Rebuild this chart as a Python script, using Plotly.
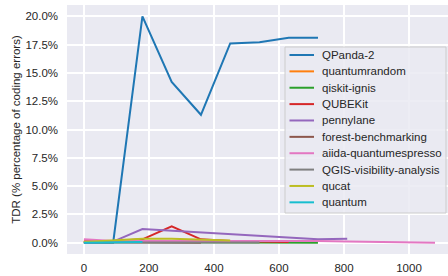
import plotly.graph_objects as go

x_values = [0, 90, 180, 270, 360, 450, 540, 630, 720, 810, 900, 990, 1080]

series_names = ["QPanda-2", "quantumrandom", "qiskit-ignis", "QUBEKit", "pennylane",
                "forest-benchmarking", "aiida-quantumespresso", "QGIS-visibility-analysis",
                "qucat", "quantum"]

qpanda2 = [0.0, 0.0, 20.0, 14.2, 11.3, 17.6, 17.7, 18.1, 18.1]
quantumrandom = [0.1, 0.1]
qiskit_ignis = [0.05, 0.05, 0.05, 0.05, 0.05, 0.05, 0.05, 0.03, 0.0]
qubekit = [0.1, 0.15, 0.3, 1.45, 0.3, 0.15, 0.1, 0.05]
pennylane = [0.0, 0.1, 1.2, 1.05, 0.9, 0.75, 0.6, 0.45, 0.3, 0.35]
forest_benchmarking = [0.05, 0.05, 0.05, 0.03, 0.0]
aiida_quantumespresso = [0.3, 0.15, 0.15, 0.15, 0.15, 0.2, 0.2, 0.2, 0.15, 0.1, 0.05, 0.05, 0.0]
qgis_visibility = [0.02, 0.02, 0.02, 0.02, 0.02, 0.02, 0.02]
qucat = [0.05, 0.2, 0.35, 0.35, 0.3, 0.2]
quantum = [0.0, 0.05, 0.05]

series_values = [qpanda2, quantumrandom, qiskit_ignis, qubekit, pennylane,
                 forest_benchmarking, aiida_quantumespresso, qgis_visibility, qucat, quantum]

colors = ["#1f77b4", "#ff7f0e", "#2ca02c", "#d62728", "#9467bd",
          "#8c564b", "#e377c2", "#7f7f7f", "#bcbd22", "#17becf"]

y_ticks = [0, 2.5, 5, 7.5, 10, 12.5, 15, 17.5, 20]
y_tick_labels = [f"{v:.1f}%" for v in y_ticks]
x_ticks = [0, 200, 400, 600, 800, 1000]

W, H = 448, 276
ML, MR, MT, MB = 67, 0, 5, 22
FONT = "Liberation Sans, Arial, sans-serif"
TXT = "#262626"

fig = go.Figure()
for name, vals, c in zip(series_names, series_values, colors):
    fig.add_trace(go.Scatter(x=x_values[:len(vals)], y=vals, mode="lines", name=name,
                             line=dict(color=c, width=2), showlegend=False))

pw = W - ML - MR
ph = H - MT - MB


def px_x(p):
    return (p - ML) / pw


def px_y(p):
    return (H - MB - p) / ph


shapes = [dict(type="rect", xref="paper", yref="paper",
               x0=px_x(285), x1=px_x(446), y0=px_y(213), y1=px_y(47),
               line=dict(color="#CCCCCC", width=1), fillcolor="rgba(234,234,242,0.85)",
               layer="above")]
annotations = []
for i, (name, c) in enumerate(zip(series_names, colors)):
    yy = 55 + 16.37 * i
    shapes.append(dict(type="line", xref="paper", yref="paper",
                       x0=px_x(289.5), x1=px_x(314), y0=px_y(yy), y1=px_y(yy),
                       line=dict(color=c, width=2), layer="above"))
    annotations.append(dict(xref="paper", yref="paper", x=px_x(320), y=px_y(yy),
                            text=name, showarrow=False, xanchor="left", yanchor="middle",
                            font=dict(family=FONT, size=11.5, color=TXT)))

fig.update_layout(
    width=W, height=H,
    margin=dict(l=ML, r=MR, t=MT, b=MB, pad=0, autoexpand=False),
    paper_bgcolor="white", plot_bgcolor="#EAEAF2",
    font=dict(family=FONT, size=11, color=TXT),
    showlegend=False,
    shapes=shapes, annotations=annotations,
    xaxis=dict(range=[-52, 1120], tickvals=x_ticks, showgrid=True, gridcolor="white",
               gridwidth=1.5, zeroline=False, showline=False, ticks="",
               ticklabelstandoff=5, tickfont=dict(size=11.5, color=TXT), automargin=False),
    yaxis=dict(range=[-1.0, 21.0], tickvals=y_ticks, ticktext=y_tick_labels,
               showgrid=True, gridcolor="white", gridwidth=1.5, zeroline=False,
               showline=False, ticks="", ticklabelstandoff=8, automargin=False,
               tickfont=dict(size=11.5, color=TXT),
               title=dict(text="TDR (% percentage of coding errors)",
                          font=dict(size=11.5, color=TXT), standoff=2)),
)

fig.write_html("out.html", config={"displayModeBar": False},
               post_script="document.body.style.margin='0';document.body.style.overflow='hidden';")
